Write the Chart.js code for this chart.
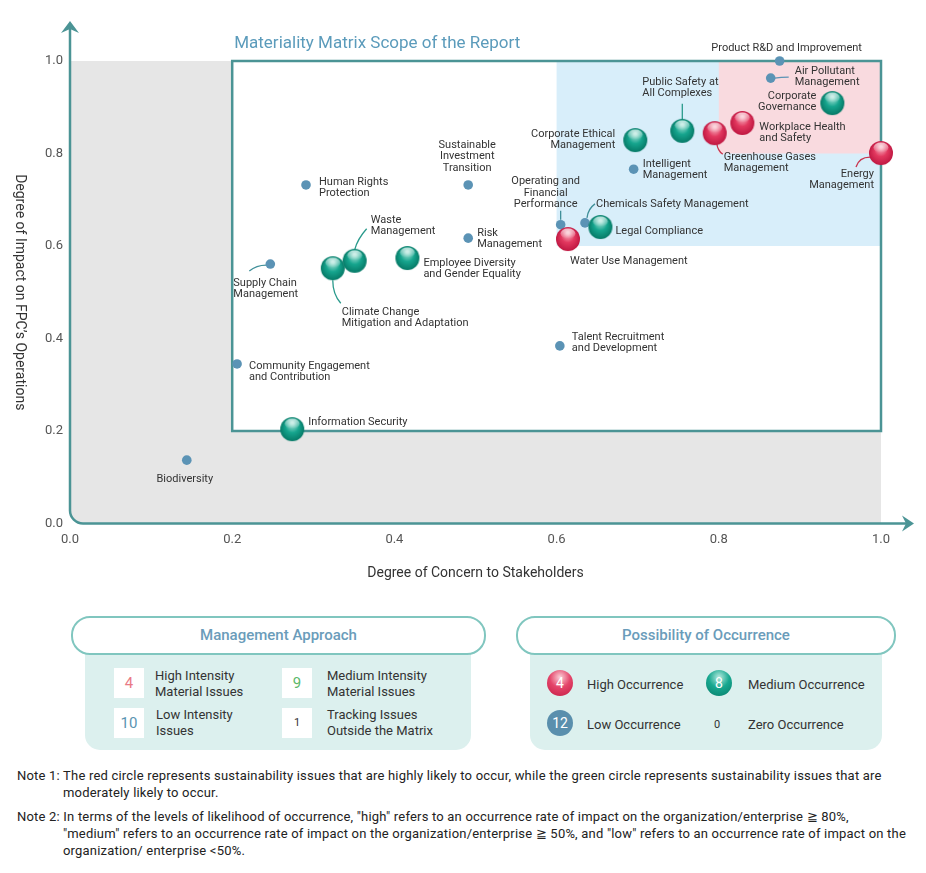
<!DOCTYPE html>
<html>
<head>
<meta charset="utf-8">
<script src="https://cdn.jsdelivr.net/npm/chart.js@4.4.1/dist/chart.umd.min.js"></script>
<style>
body{margin:0;background:#fff;font-family:Roboto,sans-serif;color:#333}
#page{position:relative;width:926px;height:873px;overflow:hidden}
#matrix{position:absolute;left:0;top:0}
.head{position:absolute;top:616px;height:35px;border:2px solid #80c6bf;border-radius:19px;background:#fff;text-align:center;line-height:35px;color:#6a9cba;font-size:15px;font-weight:500;z-index:2}
.body{position:absolute;top:636px;height:114px;background:#dcf0ee;border-radius:0 0 15px 15px}
.sq{position:absolute;width:30px;height:30px;background:#fff;text-align:center;line-height:30px;font-size:15px}
.txt{position:absolute;font-size:13px;line-height:16px;white-space:nowrap;color:#333}
.ball{position:absolute;width:26px;height:26px;border-radius:50%;color:#fff;text-align:center;line-height:26px;font-size:14px}
.red{background:radial-gradient(circle at 50% 28%,#fbd0d8 0%,#e4456a 45%,#c41b44 100%)}
.green{background:radial-gradient(circle at 50% 28%,#b5eadf 0%,#18a890 45%,#067c68 100%)}
.blue{background:#5a8fad}
.note{position:absolute;left:17px;font-family:Roboto,sans-serif;font-size:13px;letter-spacing:0.2px;line-height:17px;padding-left:46px;text-indent:-46px;white-space:nowrap;color:#222}
</style>
</head>
<body>
<div id="page">
<canvas id="matrix" width="926" height="600"></canvas>

<div class="head" style="left:71px;width:411px">Management Approach</div>
<div class="body" style="left:85px;width:386px"></div>
<div class="sq" style="left:114px;top:668px;color:#e97a86">4</div>
<div class="txt" style="left:155px;top:668px">High Intensity<br>Material Issues</div>
<div class="sq" style="left:282px;top:668px;color:#5cb86a">9</div>
<div class="txt" style="left:327px;top:668px">Medium Intensity<br>Material Issues</div>
<div class="sq" style="left:114px;top:708px;color:#5a94b2">10</div>
<div class="txt" style="left:156px;top:707px">Low Intensity<br>Issues</div>
<div class="sq" style="left:282px;top:708px;color:#333;font-size:11px">1</div>
<div class="txt" style="left:327px;top:707px">Tracking Issues<br>Outside the Matrix</div>

<div class="head" style="left:516px;width:376px">Possibility of Occurrence</div>
<div class="body" style="left:530px;width:352px"></div>
<div class="ball red" style="left:547px;top:670px">4</div>
<div class="txt" style="left:587px;top:677px">High Occurrence</div>
<div class="ball green" style="left:706px;top:670px">8</div>
<div class="txt" style="left:748px;top:677px">Medium Occurrence</div>
<div class="ball blue" style="left:547px;top:710px">12</div>
<div class="txt" style="left:587px;top:717px">Low Occurrence</div>
<div class="txt" style="left:714px;top:717px;font-size:11px">0</div>
<div class="txt" style="left:748px;top:717px">Zero Occurrence</div>

<div class="note" style="top:767px">Note 1: The red circle represents sustainability issues that are highly likely to occur, while the green circle represents sustainability issues that are<br>moderately likely to occur.</div>
<div class="note" style="top:808px">Note 2: In terms of the levels of likelihood of occurrence, "high" refers to an occurrence rate of impact on the organization/enterprise ≧ 80%,<br>"medium" refers to an occurrence rate of impact on the organization/enterprise ≧ 50%, and "low" refers to an occurrence rate of impact on the<br>organization/ enterprise &lt;50%.</div>
</div>

<script>
// tick values shared by both axes
const tickValues = [0, 0.2, 0.4, 0.6, 0.8, 1.0];

// high occurrence issues (red)
const highNames = ['Energy\nManagement', 'Workplace Health\nand Safety', 'Greenhouse Gases\nManagement', 'Water Use Management'];
const highX = [1.0, 0.829, 0.795, 0.614];
const highY = [0.801, 0.866, 0.844, 0.615];

// medium occurrence issues (green)
const mediumNames = ['Corporate\nGovernance', 'Public Safety at\nAll Complexes', 'Corporate Ethical\nManagement', 'Legal Compliance',
  'Employee Diversity\nand Gender Equality', 'Climate Change\nMitigation and Adaptation', 'Waste\nManagement', 'Information Security'];
const mediumX = [0.940, 0.755, 0.697, 0.654, 0.416, 0.324, 0.351, 0.274];
const mediumY = [0.909, 0.849, 0.829, 0.641, 0.574, 0.552, 0.568, 0.204];

// low occurrence issues (blue)
const lowNames = ['Product R&D and Improvement', 'Air Pollutant\nManagement', 'Intelligent\nManagement', 'Operating and\nFinancial\nPerformance',
  'Chemicals Safety Management', 'Talent Recruitment\nand Development', 'Sustainable\nInvestment\nTransition', 'Risk\nManagement',
  'Human Rights\nProtection', 'Supply Chain\nManagement', 'Community Engagement\nand Contribution', 'Biodiversity'];
const lowX = [0.875, 0.864, 0.695, 0.605, 0.635, 0.604, 0.491, 0.491, 0.291, 0.247, 0.206, 0.144];
const lowY = [1.0, 0.963, 0.766, 0.646, 0.650, 0.384, 0.732, 0.617, 0.732, 0.561, 0.345, 0.137];

// zone limits of the matrix
const scopeFrom = 0.2, blueFrom = 0.6, pinkFrom = 0.8;

// where each label sits relative to its point (px), plus optional leader curve
const labelLayout = {
  'Energy\nManagement': {dx: -7, dy: 21, align: 'right', lead: [-11, 4, -22, 4, -25, 14]},
  'Workplace Health\nand Safety': {dx: 17, dy: 4, align: 'left'},
  'Greenhouse Gases\nManagement': {dx: 9, dy: 24, align: 'left', lead: [2, 10, 3, 18, 8, 21]},
  'Water Use Management': {dx: 2, dy: 22, align: 'left'},
  'Corporate\nGovernance': {dx: -16, dy: -7, align: 'right'},
  'Public Safety at\nAll Complexes': {dx: -40, dy: -49, align: 'left', lead: [0, -11, 0, -19, 0, -27]},
  'Corporate Ethical\nManagement': {dx: -20, dy: -6, align: 'right'},
  'Legal Compliance': {dx: 15, dy: 4, align: 'left'},
  'Employee Diversity\nand Gender Equality': {dx: 16, dy: 5, align: 'left'},
  'Waste\nManagement': {dx: 16, dy: -41, align: 'left', lead: [0, -11, 3, -22, 12, -32]},
  'Climate Change\nMitigation and Adaptation': {dx: 9, dy: 44, align: 'left', lead: [0, 12, 0, 26, 8, 35]},
  'Information Security': {dx: 16, dy: -7, align: 'left'},
  'Product R&D and Improvement': {dx: 7, dy: -13, align: 'center'},
  'Air Pollutant\nManagement': {dx: 24, dy: -7, align: 'left', lead: [4, 0, 10, -1, 18, -1]},
  'Intelligent\nManagement': {dx: 9, dy: -5, align: 'left'},
  'Operating and\nFinancial\nPerformance': {dx: -15, dy: -43, align: 'center', lead: [0, -5, 0, -9, 0, -14], color: '#3f8f99'},
  'Chemicals Safety Management': {dx: 11, dy: -19, align: 'left', lead: [2, -5, 3, -14, 10, -19], color: '#3f8f99'},
  'Talent Recruitment\nand Development': {dx: 12, dy: -9, align: 'left'},
  'Sustainable\nInvestment\nTransition': {dx: -1, dy: -40, align: 'center'},
  'Risk\nManagement': {dx: 9, dy: -5, align: 'left'},
  'Human Rights\nProtection': {dx: 13, dy: -3, align: 'left'},
  'Supply Chain\nManagement': {dx: -37, dy: 19, align: 'left', lead: [-4, 1, -14, 1, -21, 7], color: '#3f8f99'},
  'Community Engagement\nand Contribution': {dx: 12, dy: 2, align: 'left'},
  'Biodiversity': {dx: -2, dy: 19, align: 'center'}
};

const teal = '#4b9495';

// glossy sphere used as point style
function makeBall(r, light, mid, dark) {
  const c = document.createElement('canvas');
  c.width = c.height = 2 * r + 2;
  const g = c.getContext('2d');
  const m = r + 1;
  const grad = g.createRadialGradient(m, m - r * 0.5, r * 0.1, m, m, r);
  grad.addColorStop(0, light);
  grad.addColorStop(0.5, mid);
  grad.addColorStop(1, dark);
  g.beginPath();
  g.arc(m, m, r, 0, Math.PI * 2);
  g.fillStyle = grad;
  g.fill();
  const hl = g.createLinearGradient(0, m - r * 0.9, 0, m - r * 0.05);
  hl.addColorStop(0, 'rgba(255,255,255,0.8)');
  hl.addColorStop(1, 'rgba(255,255,255,0)');
  g.beginPath();
  g.ellipse(m, m - r * 0.45, r * 0.62, r * 0.42, 0, 0, Math.PI * 2);
  g.fillStyle = hl;
  g.fill();
  return c;
}
const redBall = makeBall(12, '#f7b3c1', '#e2385f', '#c01842');
const greenBall = makeBall(12, '#a6e2d6', '#16a58e', '#067a67');

function pts(xs, ys, names) {
  return xs.map((x, i) => ({x: x, y: ys[i], name: names[i]}));
}

// grey field, scope box, coloured zones and the arrow axes
const backdrop = {
  id: 'backdrop',
  beforeDraw(chart) {
    const {ctx, scales: {x, y}} = chart;
    const X = v => x.getPixelForValue(v), Y = v => y.getPixelForValue(v);
    const r = 13;
    ctx.save();
    ctx.fillStyle = '#e6e6e6';
    ctx.beginPath();
    ctx.moveTo(X(0), Y(1));
    ctx.lineTo(X(1), Y(1));
    ctx.lineTo(X(1), Y(0));
    ctx.lineTo(X(0) + r, Y(0));
    ctx.arcTo(X(0), Y(0), X(0), Y(0) - r, r);
    ctx.closePath();
    ctx.fill();

    ctx.fillStyle = '#fff';
    ctx.fillRect(X(scopeFrom), Y(1), X(1) - X(scopeFrom), Y(scopeFrom) - Y(1));
    ctx.fillStyle = '#d8eefa';
    ctx.fillRect(X(blueFrom), Y(1), X(1) - X(blueFrom), Y(blueFrom) - Y(1));
    ctx.fillStyle = '#f9dadf';
    ctx.fillRect(X(pinkFrom), Y(1), X(1) - X(pinkFrom), Y(pinkFrom) - Y(1));
    ctx.strokeStyle = teal;
    ctx.lineWidth = 2.5;
    ctx.strokeRect(X(scopeFrom), Y(1), X(1) - X(scopeFrom), Y(scopeFrom) - Y(1));

    // axes
    ctx.beginPath();
    ctx.moveTo(X(0), Y(1) - 32);
    ctx.lineTo(X(0), Y(0) - r);
    ctx.arcTo(X(0), Y(0), X(0) + r, Y(0), r);
    ctx.lineTo(X(1) + 27, Y(0));
    ctx.stroke();
    ctx.fillStyle = teal;
    ctx.beginPath();
    ctx.moveTo(X(0), Y(1) - 40);
    ctx.lineTo(X(0) - 9, Y(1) - 28);
    ctx.lineTo(X(0), Y(1) - 32);
    ctx.lineTo(X(0) + 9, Y(1) - 28);
    ctx.closePath();
    ctx.fill();
    ctx.beginPath();
    ctx.moveTo(X(1) + 33, Y(0));
    ctx.lineTo(X(1) + 21, Y(0) - 8);
    ctx.lineTo(X(1) + 25, Y(0));
    ctx.lineTo(X(1) + 21, Y(0) + 8);
    ctx.closePath();
    ctx.fill();
    ctx.restore();
  }
};

function eachLabel(chart, fn) {
  chart.data.datasets.forEach((ds, di) => {
    chart.getDatasetMeta(di).data.forEach((el, i) => {
      const lay = labelLayout[ds.data[i].name];
      if (lay) fn(el, lay, ds, ds.data[i].name);
    });
  });
}

// leader lines go under the balls
const leaders = {
  id: 'leaders',
  beforeDatasetsDraw(chart) {
    const ctx = chart.ctx;
    ctx.save();
    ctx.lineWidth = 1.3;
    eachLabel(chart, (el, lay, ds) => {
      if (!lay.lead) return;
      const l = lay.lead;
      ctx.strokeStyle = lay.color || ds.leadColor;
      ctx.beginPath();
      ctx.moveTo(el.x + l[0], el.y + l[1]);
      ctx.quadraticCurveTo(el.x + l[2], el.y + l[3], el.x + l[4], el.y + l[5]);
      ctx.stroke();
    });
    ctx.restore();
  }
};

const labels = {
  id: 'labels',
  afterDatasetsDraw(chart) {
    const ctx = chart.ctx;
    ctx.save();
    ctx.font = '11px Roboto';
    ctx.fillStyle = '#333';
    ctx.textBaseline = 'middle';
    eachLabel(chart, (el, lay, ds, name) => {
      ctx.textAlign = lay.align;
      name.split('\n').forEach((line, k) => {
        ctx.fillText(line, el.x + lay.dx, el.y + lay.dy + k * 11.5);
      });
    });
    ctx.restore();
  }
};

// chart heading and the rotated y title
const extras = {
  id: 'extras',
  afterDraw(chart) {
    const {ctx, scales: {x, y}} = chart;
    ctx.save();
    ctx.font = '17px Roboto';
    ctx.fillStyle = '#5b9bbb';
    ctx.textAlign = 'left';
    ctx.textBaseline = 'middle';
    ctx.fillText('Materiality Matrix Scope of the Report', x.getPixelForValue(scopeFrom) + 2, 44);
    ctx.translate(19, (y.top + y.bottom) / 2);
    ctx.rotate(Math.PI / 2);
    ctx.font = '14px Roboto';
    ctx.fillStyle = '#333';
    ctx.textAlign = 'center';
    ctx.fillText('Degree of Impact on FPC\u2019s Operations', 0, 0);
    ctx.restore();
  }
};

const tickFont = {family: 'Roboto', size: 13};

new Chart(document.getElementById('matrix'), {
  type: 'scatter',
  data: {
    datasets: [
      {label: 'High Occurrence', data: pts(highX, highY, highNames), pointStyle: redBall, clip: false, leadColor: '#c8354f'},
      {label: 'Medium Occurrence', data: pts(mediumX, mediumY, mediumNames), pointStyle: greenBall, clip: false, leadColor: '#2a9a8c'},
      {label: 'Low Occurrence', data: pts(lowX, lowY, lowNames), pointStyle: 'circle', pointRadius: 4.8,
        backgroundColor: '#5b93b5', borderWidth: 0, clip: false, leadColor: '#5b93b5'}
    ]
  },
  options: {
    responsive: false,
    animation: false,
    layout: {padding: {top: 61, right: 45, left: 0, bottom: 0}},
    plugins: {legend: {display: false}, tooltip: {enabled: false}},
    scales: {
      x: {
        type: 'linear', min: 0, max: 1,
        afterBuildTicks: s => { s.ticks = tickValues.map(v => ({value: v})); },
        afterFit: s => { s.height = 76.5; },
        grid: {display: false, drawTicks: false},
        border: {display: false},
        ticks: {padding: 8, color: '#555', font: tickFont, maxRotation: 0, autoSkip: false, callback: v => v.toFixed(1)},
        title: {display: true, text: 'Degree of Concern to Stakeholders', color: '#333', font: {family: 'Roboto', size: 14}, padding: {top: 0, bottom: 18}}
      },
      y: {
        type: 'linear', min: 0, max: 1,
        afterBuildTicks: s => { s.ticks = tickValues.map(v => ({value: v})); },
        afterFit: s => { s.width = 70; },
        grid: {display: false, drawTicks: false},
        border: {display: false},
        ticks: {padding: 7, color: '#555', font: tickFont, autoSkip: false, callback: v => v.toFixed(1)}
      }
    }
  },
  plugins: [backdrop, leaders, labels, extras]
});
</script>
</body>
</html>
